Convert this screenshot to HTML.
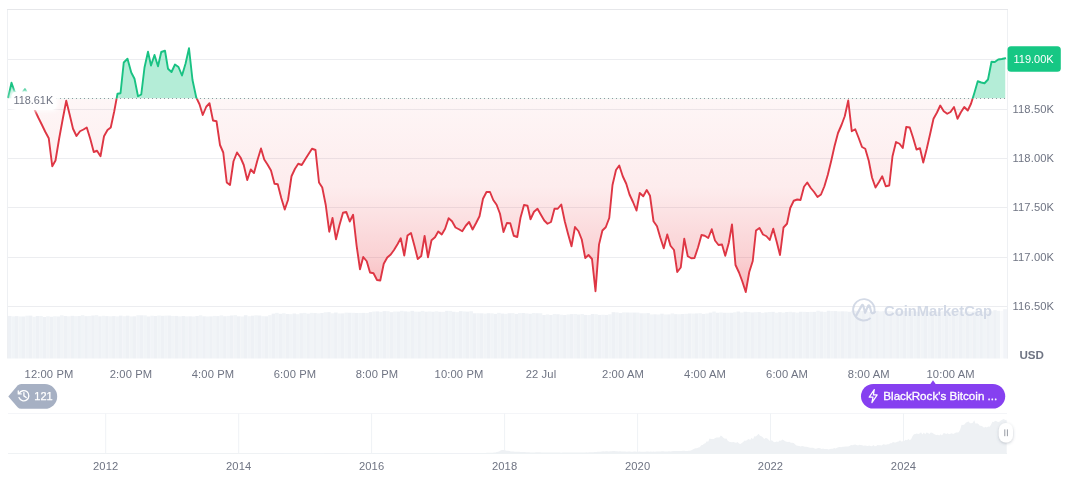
<!DOCTYPE html>
<html><head><meta charset="utf-8"><title>Chart</title>
<style>
html,body{margin:0;padding:0;background:#fff;}
body{width:1072px;height:477px;overflow:hidden;font-family:"Liberation Sans",sans-serif;}
svg{display:block}
.ax{font-family:"Liberation Sans",sans-serif;font-size:11.2px;fill:#6f7483;letter-spacing:0.12px;}
</style></head><body>
<svg width="1072" height="477" viewBox="0 0 1072 477" style="will-change:transform">
<defs>
<linearGradient id="rg" x1="0" y1="98.4" x2="0" y2="295" gradientUnits="userSpaceOnUse">
<stop offset="0" stop-color="#ea3943" stop-opacity="0.045"/>
<stop offset="0.45" stop-color="#ea3943" stop-opacity="0.095"/>
<stop offset="0.8" stop-color="#ea3943" stop-opacity="0.23"/>
<stop offset="1" stop-color="#ea3943" stop-opacity="0.36"/>
</linearGradient>
<clipPath id="above"><rect x="0" y="0" width="1072" height="98.4"/></clipPath>
<clipPath id="below"><rect x="0" y="98.4" width="1072" height="300"/></clipPath>
<filter id="blur" x="-20%" y="-50%" width="140%" height="200%"><feGaussianBlur stdDeviation="2.2"/></filter>
<filter id="sh" x="-50%" y="-50%" width="200%" height="200%"><feDropShadow dx="0" dy="1" stdDeviation="1.6" flood-color="#58667e" flood-opacity="0.35"/></filter>
</defs>
<rect width="1072" height="477" fill="#fff"/>
<!-- volume -->
<g><rect x="8.00" y="315.93" width="3.52" height="42.57" fill="#eef1f5"/><rect x="11.47" y="316.36" width="3.52" height="42.14" fill="#f1f4f7"/><rect x="14.94" y="316.12" width="3.52" height="42.38" fill="#eef1f5"/><rect x="18.41" y="316.45" width="3.52" height="42.05" fill="#f1f4f7"/><rect x="21.88" y="316.48" width="3.52" height="42.02" fill="#eef1f5"/><rect x="25.35" y="315.69" width="3.52" height="42.81" fill="#f1f4f7"/><rect x="28.82" y="315.62" width="3.52" height="42.88" fill="#eef1f5"/><rect x="32.28" y="316.77" width="3.52" height="41.73" fill="#f1f4f7"/><rect x="35.75" y="315.96" width="3.52" height="42.54" fill="#eef1f5"/><rect x="39.22" y="315.93" width="3.52" height="42.57" fill="#f1f4f7"/><rect x="42.69" y="316.99" width="3.52" height="41.51" fill="#eef1f5"/><rect x="46.16" y="316.26" width="3.52" height="42.24" fill="#f1f4f7"/><rect x="49.63" y="316.77" width="3.52" height="41.73" fill="#eef1f5"/><rect x="53.10" y="316.27" width="3.52" height="42.23" fill="#f1f4f7"/><rect x="56.57" y="316.49" width="3.52" height="42.01" fill="#eef1f5"/><rect x="60.04" y="315.31" width="3.52" height="43.19" fill="#f1f4f7"/><rect x="63.51" y="315.99" width="3.52" height="42.51" fill="#eef1f5"/><rect x="66.98" y="316.32" width="3.52" height="42.18" fill="#f1f4f7"/><rect x="70.45" y="315.83" width="3.52" height="42.67" fill="#eef1f5"/><rect x="73.92" y="316.14" width="3.52" height="42.36" fill="#f1f4f7"/><rect x="77.38" y="316.04" width="3.52" height="42.46" fill="#eef1f5"/><rect x="80.85" y="315.19" width="3.52" height="43.31" fill="#f1f4f7"/><rect x="84.32" y="316.16" width="3.52" height="42.34" fill="#eef1f5"/><rect x="87.79" y="315.93" width="3.52" height="42.57" fill="#f1f4f7"/><rect x="91.26" y="315.52" width="3.52" height="42.98" fill="#eef1f5"/><rect x="94.73" y="315.14" width="3.52" height="43.36" fill="#f1f4f7"/><rect x="98.20" y="316.31" width="3.52" height="42.19" fill="#eef1f5"/><rect x="101.67" y="315.76" width="3.52" height="42.74" fill="#f1f4f7"/><rect x="105.14" y="316.11" width="3.52" height="42.39" fill="#eef1f5"/><rect x="108.61" y="316.33" width="3.52" height="42.17" fill="#f1f4f7"/><rect x="112.08" y="316.10" width="3.52" height="42.40" fill="#eef1f5"/><rect x="115.55" y="316.39" width="3.52" height="42.11" fill="#f1f4f7"/><rect x="119.02" y="315.65" width="3.52" height="42.85" fill="#eef1f5"/><rect x="122.48" y="316.22" width="3.52" height="42.28" fill="#f1f4f7"/><rect x="125.95" y="315.72" width="3.52" height="42.78" fill="#eef1f5"/><rect x="129.42" y="316.41" width="3.52" height="42.09" fill="#f1f4f7"/><rect x="132.89" y="316.33" width="3.52" height="42.17" fill="#eef1f5"/><rect x="136.36" y="315.24" width="3.52" height="43.26" fill="#f1f4f7"/><rect x="139.83" y="315.29" width="3.52" height="43.21" fill="#eef1f5"/><rect x="143.30" y="315.40" width="3.52" height="43.10" fill="#f1f4f7"/><rect x="146.77" y="316.45" width="3.52" height="42.05" fill="#eef1f5"/><rect x="150.24" y="315.71" width="3.52" height="42.79" fill="#f1f4f7"/><rect x="153.71" y="315.98" width="3.52" height="42.52" fill="#eef1f5"/><rect x="157.18" y="315.52" width="3.52" height="42.98" fill="#f1f4f7"/><rect x="160.65" y="315.81" width="3.52" height="42.69" fill="#eef1f5"/><rect x="164.12" y="315.64" width="3.52" height="42.86" fill="#f1f4f7"/><rect x="167.58" y="315.59" width="3.52" height="42.91" fill="#eef1f5"/><rect x="171.05" y="315.92" width="3.52" height="42.58" fill="#f1f4f7"/><rect x="174.52" y="315.92" width="3.52" height="42.58" fill="#eef1f5"/><rect x="177.99" y="316.37" width="3.52" height="42.13" fill="#f1f4f7"/><rect x="181.46" y="316.05" width="3.52" height="42.45" fill="#eef1f5"/><rect x="184.93" y="316.40" width="3.52" height="42.10" fill="#f1f4f7"/><rect x="188.40" y="316.30" width="3.52" height="42.20" fill="#eef1f5"/><rect x="191.87" y="316.49" width="3.52" height="42.01" fill="#f1f4f7"/><rect x="195.34" y="316.04" width="3.52" height="42.46" fill="#eef1f5"/><rect x="198.81" y="315.33" width="3.52" height="43.17" fill="#f1f4f7"/><rect x="202.28" y="316.30" width="3.52" height="42.20" fill="#eef1f5"/><rect x="205.75" y="316.45" width="3.52" height="42.05" fill="#f1f4f7"/><rect x="209.22" y="316.37" width="3.52" height="42.13" fill="#eef1f5"/><rect x="212.68" y="315.90" width="3.52" height="42.60" fill="#f1f4f7"/><rect x="216.15" y="316.10" width="3.52" height="42.40" fill="#eef1f5"/><rect x="219.62" y="315.40" width="3.52" height="43.10" fill="#f1f4f7"/><rect x="223.09" y="316.26" width="3.52" height="42.24" fill="#eef1f5"/><rect x="226.56" y="315.90" width="3.52" height="42.60" fill="#f1f4f7"/><rect x="230.03" y="315.50" width="3.52" height="43.00" fill="#eef1f5"/><rect x="233.50" y="315.19" width="3.52" height="43.31" fill="#f1f4f7"/><rect x="236.97" y="316.30" width="3.52" height="42.20" fill="#eef1f5"/><rect x="240.44" y="316.49" width="3.52" height="42.01" fill="#f1f4f7"/><rect x="243.91" y="315.22" width="3.52" height="43.28" fill="#eef1f5"/><rect x="247.38" y="316.22" width="3.52" height="42.28" fill="#f1f4f7"/><rect x="250.85" y="315.67" width="3.52" height="42.83" fill="#eef1f5"/><rect x="254.32" y="315.31" width="3.52" height="43.19" fill="#f1f4f7"/><rect x="257.78" y="315.51" width="3.52" height="42.99" fill="#eef1f5"/><rect x="261.25" y="316.18" width="3.52" height="42.32" fill="#f1f4f7"/><rect x="264.72" y="316.32" width="3.52" height="42.18" fill="#eef1f5"/><rect x="268.19" y="315.16" width="3.52" height="43.34" fill="#f1f4f7"/><rect x="271.66" y="313.66" width="3.52" height="44.84" fill="#eef1f5"/><rect x="275.13" y="312.86" width="3.52" height="45.64" fill="#f1f4f7"/><rect x="278.60" y="313.81" width="3.52" height="44.69" fill="#eef1f5"/><rect x="282.07" y="313.26" width="3.52" height="45.24" fill="#f1f4f7"/><rect x="285.54" y="314.03" width="3.52" height="44.47" fill="#eef1f5"/><rect x="289.01" y="314.17" width="3.52" height="44.33" fill="#f1f4f7"/><rect x="292.48" y="313.51" width="3.52" height="44.99" fill="#eef1f5"/><rect x="295.95" y="314.20" width="3.52" height="44.30" fill="#f1f4f7"/><rect x="299.42" y="313.23" width="3.52" height="45.27" fill="#eef1f5"/><rect x="302.88" y="312.91" width="3.52" height="45.59" fill="#f1f4f7"/><rect x="306.35" y="313.64" width="3.52" height="44.86" fill="#eef1f5"/><rect x="309.82" y="312.84" width="3.52" height="45.66" fill="#f1f4f7"/><rect x="313.29" y="313.08" width="3.52" height="45.42" fill="#eef1f5"/><rect x="316.76" y="313.37" width="3.52" height="45.13" fill="#f1f4f7"/><rect x="320.23" y="312.95" width="3.52" height="45.55" fill="#eef1f5"/><rect x="323.70" y="312.32" width="3.52" height="46.18" fill="#f1f4f7"/><rect x="327.17" y="312.16" width="3.52" height="46.34" fill="#eef1f5"/><rect x="330.64" y="313.31" width="3.52" height="45.19" fill="#f1f4f7"/><rect x="334.11" y="312.54" width="3.52" height="45.96" fill="#eef1f5"/><rect x="337.58" y="313.44" width="3.52" height="45.06" fill="#f1f4f7"/><rect x="341.05" y="313.36" width="3.52" height="45.14" fill="#eef1f5"/><rect x="344.52" y="312.63" width="3.52" height="45.87" fill="#f1f4f7"/><rect x="347.98" y="312.74" width="3.52" height="45.76" fill="#eef1f5"/><rect x="351.45" y="312.83" width="3.52" height="45.67" fill="#f1f4f7"/><rect x="354.92" y="313.00" width="3.52" height="45.50" fill="#eef1f5"/><rect x="358.39" y="312.93" width="3.52" height="45.57" fill="#f1f4f7"/><rect x="361.86" y="312.88" width="3.52" height="45.62" fill="#eef1f5"/><rect x="365.33" y="312.97" width="3.52" height="45.53" fill="#f1f4f7"/><rect x="368.80" y="312.12" width="3.52" height="46.38" fill="#eef1f5"/><rect x="372.27" y="311.51" width="3.52" height="46.99" fill="#f1f4f7"/><rect x="375.74" y="311.40" width="3.52" height="47.10" fill="#eef1f5"/><rect x="379.21" y="311.81" width="3.52" height="46.69" fill="#f1f4f7"/><rect x="382.68" y="311.13" width="3.52" height="47.37" fill="#eef1f5"/><rect x="386.15" y="311.22" width="3.52" height="47.28" fill="#f1f4f7"/><rect x="389.62" y="312.17" width="3.52" height="46.33" fill="#eef1f5"/><rect x="393.08" y="311.53" width="3.52" height="46.97" fill="#f1f4f7"/><rect x="396.55" y="311.57" width="3.52" height="46.93" fill="#eef1f5"/><rect x="400.02" y="310.82" width="3.52" height="47.68" fill="#f1f4f7"/><rect x="403.49" y="311.38" width="3.52" height="47.12" fill="#eef1f5"/><rect x="406.96" y="311.61" width="3.52" height="46.89" fill="#f1f4f7"/><rect x="410.43" y="310.83" width="3.52" height="47.67" fill="#eef1f5"/><rect x="413.90" y="311.66" width="3.52" height="46.84" fill="#f1f4f7"/><rect x="417.37" y="311.69" width="3.52" height="46.81" fill="#eef1f5"/><rect x="420.84" y="310.88" width="3.52" height="47.62" fill="#f1f4f7"/><rect x="424.31" y="311.68" width="3.52" height="46.82" fill="#eef1f5"/><rect x="427.78" y="311.45" width="3.52" height="47.05" fill="#f1f4f7"/><rect x="431.25" y="311.75" width="3.52" height="46.75" fill="#eef1f5"/><rect x="434.72" y="311.29" width="3.52" height="47.21" fill="#f1f4f7"/><rect x="438.18" y="311.79" width="3.52" height="46.71" fill="#eef1f5"/><rect x="441.65" y="311.83" width="3.52" height="46.67" fill="#f1f4f7"/><rect x="445.12" y="310.83" width="3.52" height="47.67" fill="#eef1f5"/><rect x="448.59" y="310.88" width="3.52" height="47.62" fill="#f1f4f7"/><rect x="452.06" y="311.75" width="3.52" height="46.75" fill="#eef1f5"/><rect x="455.53" y="312.15" width="3.52" height="46.35" fill="#f1f4f7"/><rect x="459.00" y="311.15" width="3.52" height="47.35" fill="#eef1f5"/><rect x="462.47" y="311.44" width="3.52" height="47.06" fill="#f1f4f7"/><rect x="465.94" y="311.63" width="3.52" height="46.87" fill="#eef1f5"/><rect x="469.41" y="311.25" width="3.52" height="47.25" fill="#f1f4f7"/><rect x="472.88" y="313.31" width="3.52" height="45.19" fill="#eef1f5"/><rect x="476.35" y="313.24" width="3.52" height="45.26" fill="#f1f4f7"/><rect x="479.82" y="313.32" width="3.52" height="45.18" fill="#eef1f5"/><rect x="483.28" y="313.63" width="3.52" height="44.87" fill="#f1f4f7"/><rect x="486.75" y="313.22" width="3.52" height="45.28" fill="#eef1f5"/><rect x="490.22" y="313.33" width="3.52" height="45.17" fill="#f1f4f7"/><rect x="493.69" y="313.88" width="3.52" height="44.62" fill="#eef1f5"/><rect x="497.16" y="312.84" width="3.52" height="45.66" fill="#f1f4f7"/><rect x="500.63" y="313.60" width="3.52" height="44.90" fill="#eef1f5"/><rect x="504.10" y="313.83" width="3.52" height="44.67" fill="#f1f4f7"/><rect x="507.57" y="313.23" width="3.52" height="45.27" fill="#eef1f5"/><rect x="511.04" y="313.11" width="3.52" height="45.39" fill="#f1f4f7"/><rect x="514.51" y="313.93" width="3.52" height="44.57" fill="#eef1f5"/><rect x="517.98" y="313.13" width="3.52" height="45.37" fill="#f1f4f7"/><rect x="521.45" y="313.06" width="3.52" height="45.44" fill="#eef1f5"/><rect x="524.92" y="313.41" width="3.52" height="45.09" fill="#f1f4f7"/><rect x="528.38" y="313.78" width="3.52" height="44.72" fill="#eef1f5"/><rect x="531.85" y="312.94" width="3.52" height="45.56" fill="#f1f4f7"/><rect x="535.32" y="313.25" width="3.52" height="45.25" fill="#eef1f5"/><rect x="538.79" y="313.27" width="3.52" height="45.23" fill="#f1f4f7"/><rect x="542.26" y="314.97" width="3.52" height="43.53" fill="#eef1f5"/><rect x="545.73" y="314.41" width="3.52" height="44.09" fill="#f1f4f7"/><rect x="549.20" y="315.00" width="3.52" height="43.50" fill="#eef1f5"/><rect x="552.67" y="314.04" width="3.52" height="44.46" fill="#f1f4f7"/><rect x="556.14" y="314.27" width="3.52" height="44.23" fill="#eef1f5"/><rect x="559.61" y="314.71" width="3.52" height="43.79" fill="#f1f4f7"/><rect x="563.08" y="315.04" width="3.52" height="43.46" fill="#eef1f5"/><rect x="566.55" y="314.43" width="3.52" height="44.07" fill="#f1f4f7"/><rect x="570.02" y="314.12" width="3.52" height="44.38" fill="#eef1f5"/><rect x="573.48" y="313.97" width="3.52" height="44.53" fill="#f1f4f7"/><rect x="576.95" y="314.54" width="3.52" height="43.96" fill="#eef1f5"/><rect x="580.42" y="314.07" width="3.52" height="44.43" fill="#f1f4f7"/><rect x="583.89" y="314.93" width="3.52" height="43.57" fill="#eef1f5"/><rect x="587.36" y="314.97" width="3.52" height="43.53" fill="#f1f4f7"/><rect x="590.83" y="314.06" width="3.52" height="44.44" fill="#eef1f5"/><rect x="594.30" y="314.19" width="3.52" height="44.31" fill="#f1f4f7"/><rect x="597.77" y="314.93" width="3.52" height="43.57" fill="#eef1f5"/><rect x="601.24" y="314.70" width="3.52" height="43.80" fill="#f1f4f7"/><rect x="604.71" y="314.93" width="3.52" height="43.57" fill="#eef1f5"/><rect x="608.18" y="314.28" width="3.52" height="44.22" fill="#f1f4f7"/><rect x="611.65" y="312.18" width="3.52" height="46.32" fill="#eef1f5"/><rect x="615.12" y="312.41" width="3.52" height="46.09" fill="#f1f4f7"/><rect x="618.58" y="313.11" width="3.52" height="45.39" fill="#eef1f5"/><rect x="622.05" y="312.38" width="3.52" height="46.12" fill="#f1f4f7"/><rect x="625.52" y="312.48" width="3.52" height="46.02" fill="#eef1f5"/><rect x="628.99" y="312.58" width="3.52" height="45.92" fill="#f1f4f7"/><rect x="632.46" y="312.59" width="3.52" height="45.91" fill="#eef1f5"/><rect x="635.93" y="312.57" width="3.52" height="45.93" fill="#f1f4f7"/><rect x="639.40" y="313.29" width="3.52" height="45.21" fill="#eef1f5"/><rect x="642.87" y="313.32" width="3.52" height="45.18" fill="#f1f4f7"/><rect x="646.34" y="313.11" width="3.52" height="45.39" fill="#eef1f5"/><rect x="649.81" y="314.42" width="3.52" height="44.08" fill="#f1f4f7"/><rect x="653.28" y="314.33" width="3.52" height="44.17" fill="#eef1f5"/><rect x="656.75" y="314.48" width="3.52" height="44.02" fill="#f1f4f7"/><rect x="660.22" y="313.71" width="3.52" height="44.79" fill="#eef1f5"/><rect x="663.68" y="314.43" width="3.52" height="44.07" fill="#f1f4f7"/><rect x="667.15" y="314.40" width="3.52" height="44.10" fill="#eef1f5"/><rect x="670.62" y="313.41" width="3.52" height="45.09" fill="#f1f4f7"/><rect x="674.09" y="314.14" width="3.52" height="44.36" fill="#eef1f5"/><rect x="677.56" y="314.27" width="3.52" height="44.23" fill="#f1f4f7"/><rect x="681.03" y="314.03" width="3.52" height="44.47" fill="#eef1f5"/><rect x="684.50" y="313.83" width="3.52" height="44.67" fill="#f1f4f7"/><rect x="687.97" y="313.50" width="3.52" height="45.00" fill="#eef1f5"/><rect x="691.44" y="313.58" width="3.52" height="44.92" fill="#f1f4f7"/><rect x="694.91" y="313.42" width="3.52" height="45.08" fill="#eef1f5"/><rect x="698.38" y="313.20" width="3.52" height="45.30" fill="#f1f4f7"/><rect x="701.85" y="313.92" width="3.52" height="44.58" fill="#eef1f5"/><rect x="705.32" y="313.50" width="3.52" height="45.00" fill="#f1f4f7"/><rect x="708.78" y="312.63" width="3.52" height="45.87" fill="#eef1f5"/><rect x="712.25" y="311.56" width="3.52" height="46.94" fill="#f1f4f7"/><rect x="715.72" y="312.77" width="3.52" height="45.73" fill="#eef1f5"/><rect x="719.19" y="312.47" width="3.52" height="46.03" fill="#f1f4f7"/><rect x="722.66" y="312.79" width="3.52" height="45.71" fill="#eef1f5"/><rect x="726.13" y="312.76" width="3.52" height="45.74" fill="#f1f4f7"/><rect x="729.60" y="312.76" width="3.52" height="45.74" fill="#eef1f5"/><rect x="733.07" y="312.31" width="3.52" height="46.19" fill="#f1f4f7"/><rect x="736.54" y="311.52" width="3.52" height="46.98" fill="#eef1f5"/><rect x="740.01" y="312.54" width="3.52" height="45.96" fill="#f1f4f7"/><rect x="743.48" y="311.74" width="3.52" height="46.76" fill="#eef1f5"/><rect x="746.95" y="311.92" width="3.52" height="46.58" fill="#f1f4f7"/><rect x="750.42" y="312.43" width="3.52" height="46.07" fill="#eef1f5"/><rect x="753.88" y="312.23" width="3.52" height="46.27" fill="#f1f4f7"/><rect x="757.35" y="312.08" width="3.52" height="46.42" fill="#eef1f5"/><rect x="760.82" y="312.81" width="3.52" height="45.69" fill="#f1f4f7"/><rect x="764.29" y="312.36" width="3.52" height="46.14" fill="#eef1f5"/><rect x="767.76" y="311.98" width="3.52" height="46.52" fill="#f1f4f7"/><rect x="771.23" y="311.85" width="3.52" height="46.65" fill="#eef1f5"/><rect x="774.70" y="312.71" width="3.52" height="45.79" fill="#f1f4f7"/><rect x="778.17" y="312.17" width="3.52" height="46.33" fill="#eef1f5"/><rect x="781.64" y="312.60" width="3.52" height="45.90" fill="#f1f4f7"/><rect x="785.11" y="311.99" width="3.52" height="46.51" fill="#eef1f5"/><rect x="788.58" y="311.78" width="3.52" height="46.72" fill="#f1f4f7"/><rect x="792.05" y="312.25" width="3.52" height="46.25" fill="#eef1f5"/><rect x="795.52" y="312.64" width="3.52" height="45.86" fill="#f1f4f7"/><rect x="798.98" y="311.74" width="3.52" height="46.76" fill="#eef1f5"/><rect x="802.45" y="311.81" width="3.52" height="46.69" fill="#f1f4f7"/><rect x="805.92" y="311.99" width="3.52" height="46.51" fill="#eef1f5"/><rect x="809.39" y="311.83" width="3.52" height="46.67" fill="#f1f4f7"/><rect x="812.86" y="311.85" width="3.52" height="46.65" fill="#eef1f5"/><rect x="816.33" y="310.71" width="3.52" height="47.79" fill="#f1f4f7"/><rect x="819.80" y="311.58" width="3.52" height="46.92" fill="#eef1f5"/><rect x="823.27" y="311.91" width="3.52" height="46.59" fill="#f1f4f7"/><rect x="826.74" y="310.77" width="3.52" height="47.73" fill="#eef1f5"/><rect x="830.21" y="311.08" width="3.52" height="47.42" fill="#f1f4f7"/><rect x="833.68" y="311.08" width="3.52" height="47.42" fill="#eef1f5"/><rect x="837.15" y="311.44" width="3.52" height="47.06" fill="#f1f4f7"/><rect x="840.62" y="311.29" width="3.52" height="47.21" fill="#eef1f5"/><rect x="844.08" y="311.36" width="3.52" height="47.14" fill="#f1f4f7"/><rect x="847.55" y="311.79" width="3.52" height="46.71" fill="#eef1f5"/><rect x="851.02" y="310.70" width="3.52" height="47.80" fill="#f1f4f7"/><rect x="854.49" y="310.78" width="3.52" height="47.72" fill="#eef1f5"/><rect x="857.96" y="310.88" width="3.52" height="47.62" fill="#f1f4f7"/><rect x="861.43" y="310.87" width="3.52" height="47.63" fill="#eef1f5"/><rect x="864.90" y="310.80" width="3.52" height="47.70" fill="#f1f4f7"/><rect x="868.37" y="312.06" width="3.52" height="46.44" fill="#eef1f5"/><rect x="871.84" y="311.90" width="3.52" height="46.60" fill="#f1f4f7"/><rect x="875.31" y="310.82" width="3.52" height="47.68" fill="#eef1f5"/><rect x="878.78" y="311.40" width="3.52" height="47.10" fill="#f1f4f7"/><rect x="882.25" y="311.14" width="3.52" height="47.36" fill="#eef1f5"/><rect x="885.72" y="311.14" width="3.52" height="47.36" fill="#f1f4f7"/><rect x="889.18" y="311.19" width="3.52" height="47.31" fill="#eef1f5"/><rect x="892.65" y="311.61" width="3.52" height="46.89" fill="#f1f4f7"/><rect x="896.12" y="311.52" width="3.52" height="46.98" fill="#eef1f5"/><rect x="899.59" y="311.21" width="3.52" height="47.29" fill="#f1f4f7"/><rect x="903.06" y="310.97" width="3.52" height="47.53" fill="#eef1f5"/><rect x="906.53" y="311.16" width="3.52" height="47.34" fill="#f1f4f7"/><rect x="910.00" y="310.87" width="3.52" height="47.63" fill="#eef1f5"/><rect x="913.47" y="311.48" width="3.52" height="47.02" fill="#f1f4f7"/><rect x="916.94" y="311.70" width="3.52" height="46.80" fill="#eef1f5"/><rect x="920.41" y="311.23" width="3.52" height="47.27" fill="#f1f4f7"/><rect x="923.88" y="310.81" width="3.52" height="47.69" fill="#eef1f5"/><rect x="927.35" y="310.95" width="3.52" height="47.55" fill="#f1f4f7"/><rect x="930.82" y="311.22" width="3.52" height="47.28" fill="#eef1f5"/><rect x="934.28" y="311.55" width="3.52" height="46.95" fill="#f1f4f7"/><rect x="937.75" y="311.80" width="3.52" height="46.70" fill="#eef1f5"/><rect x="941.22" y="311.23" width="3.52" height="47.27" fill="#f1f4f7"/><rect x="944.69" y="311.82" width="3.52" height="46.68" fill="#eef1f5"/><rect x="948.16" y="311.57" width="3.52" height="46.93" fill="#f1f4f7"/><rect x="951.63" y="311.30" width="3.52" height="47.20" fill="#eef1f5"/><rect x="955.10" y="311.22" width="3.52" height="47.28" fill="#f1f4f7"/><rect x="958.57" y="311.39" width="3.52" height="47.11" fill="#eef1f5"/><rect x="962.04" y="311.68" width="3.52" height="46.82" fill="#f1f4f7"/><rect x="965.51" y="311.29" width="3.52" height="47.21" fill="#eef1f5"/><rect x="968.98" y="311.67" width="3.52" height="46.83" fill="#f1f4f7"/><rect x="972.45" y="311.35" width="3.52" height="47.15" fill="#eef1f5"/><rect x="975.92" y="311.04" width="3.52" height="47.46" fill="#f1f4f7"/><rect x="979.38" y="311.45" width="3.52" height="47.05" fill="#eef1f5"/><rect x="982.85" y="311.67" width="3.52" height="46.83" fill="#f1f4f7"/><rect x="986.32" y="310.80" width="3.52" height="47.70" fill="#eef1f5"/><rect x="989.79" y="311.29" width="3.52" height="47.21" fill="#f1f4f7"/><rect x="993.26" y="310.20" width="3.52" height="48.30" fill="#eef1f5"/><rect x="996.73" y="310.83" width="3.52" height="47.67" fill="#f1f4f7"/><rect x="1000.2" y="311" width="3" height="47.5" fill="#f9fafc"/><rect x="1003.2" y="309.2" width="4.3" height="49.3" fill="#f2f4f8"/></g>
<!-- grid -->
<line x1="8" x2="1007" y1="59.5" y2="59.5" stroke="#ecedf0" stroke-width="1"/><line x1="8" x2="1007" y1="109.5" y2="109.5" stroke="#ecedf0" stroke-width="1"/><line x1="8" x2="1007" y1="158.5" y2="158.5" stroke="#ecedf0" stroke-width="1"/><line x1="8" x2="1007" y1="207.5" y2="207.5" stroke="#ecedf0" stroke-width="1"/><line x1="8" x2="1007" y1="257.5" y2="257.5" stroke="#ecedf0" stroke-width="1"/><line x1="8" x2="1007" y1="306.5" y2="306.5" stroke="#ecedf0" stroke-width="1"/>
<!-- frame -->
<path d="M7.5,358.5 V9.5 M1007.5,9.5 V358.5" fill="none" stroke="#eef0f3" stroke-width="1"/><line x1="7" x2="1008" y1="9.5" y2="9.5" stroke="#e6e7ea" stroke-width="1"/>
<!-- fills -->
<path d="M8.25,97.20 L11.50,82.80 L14.60,91.50 L18.20,95.00 L21.60,93.50 L25.00,89.20 L28.60,96.00 L32.10,104.00 L35.00,110.50 L38.25,117.50 L41.75,124.50 L45.25,131.75 L48.75,138.25 L52.25,166.25 L55.50,160.50 L59.25,138.00 L62.75,119.00 L66.25,100.75 L69.75,115.00 L73.00,128.75 L76.50,136.00 L80.00,131.25 L83.50,129.50 L86.75,127.50 L90.25,138.75 L93.75,152.00 L97.00,150.75 L100.50,156.25 L104.00,136.25 L107.50,130.00 L110.75,127.50 L114.25,111.25 L117.50,93.75 L120.50,93.25 L123.75,62.50 L127.50,58.75 L131.25,72.50 L134.50,78.75 L138.00,96.25 L141.25,94.50 L144.50,67.50 L148.00,51.75 L151.00,65.50 L154.50,55.00 L158.00,66.25 L161.25,52.00 L165.00,50.75 L168.00,68.75 L171.50,72.00 L175.00,64.50 L178.50,67.00 L182.00,75.50 L185.50,63.75 L189.00,48.25 L192.50,80.00 L196.25,97.50 L199.50,104.25 L202.75,115.00 L206.25,106.75 L209.50,103.25 L213.00,120.50 L216.50,121.25 L220.00,145.00 L223.25,152.50 L226.75,182.50 L230.00,185.00 L233.50,161.25 L237.00,152.50 L240.50,157.50 L243.75,165.00 L247.25,180.00 L250.75,169.50 L254.00,173.00 L257.50,160.00 L261.00,148.50 L264.25,159.50 L267.50,164.50 L271.00,170.50 L274.50,183.75 L277.75,184.25 L281.25,198.00 L284.75,209.50 L288.00,200.00 L291.50,176.25 L295.00,168.75 L298.25,163.75 L301.75,165.00 L305.25,159.25 L308.75,153.75 L312.00,148.75 L315.50,150.00 L319.00,182.50 L322.25,187.50 L325.75,205.00 L329.25,231.75 L332.50,218.00 L336.00,239.25 L339.50,225.00 L343.00,212.75 L346.25,211.85 L349.75,221.50 L353.10,214.75 L356.60,245.60 L360.00,269.25 L363.25,257.00 L366.75,261.25 L370.00,272.50 L373.50,273.25 L377.00,280.00 L380.25,280.50 L383.75,263.75 L387.25,257.50 L390.75,254.50 L394.00,250.00 L397.50,244.25 L400.75,238.25 L404.25,255.50 L407.50,235.50 L411.00,233.00 L414.50,246.00 L417.75,259.00 L421.25,256.00 L424.60,236.00 L428.00,257.25 L431.50,240.25 L435.00,237.25 L438.25,231.50 L441.75,234.40 L445.10,228.75 L448.60,218.25 L452.00,221.25 L455.50,227.50 L458.90,229.25 L462.25,231.25 L465.75,225.75 L469.10,222.00 L472.60,229.50 L476.10,223.00 L479.50,216.25 L483.00,198.75 L486.50,192.00 L490.00,192.00 L493.25,200.00 L496.60,204.75 L500.00,213.75 L503.50,232.00 L506.90,223.00 L510.25,223.25 L513.75,235.75 L517.25,237.00 L520.50,217.75 L524.00,205.00 L527.50,205.75 L530.50,219.25 L534.00,211.75 L537.50,208.75 L540.75,214.50 L544.25,220.50 L547.50,223.75 L551.00,222.00 L554.50,208.75 L557.75,208.75 L561.25,204.50 L564.75,221.25 L568.00,233.75 L571.50,246.25 L575.00,227.00 L578.50,231.25 L581.75,239.50 L585.25,258.00 L588.50,255.00 L592.00,259.00 L595.50,291.25 L599.00,244.60 L602.40,230.50 L605.75,227.25 L609.25,218.00 L612.50,185.00 L616.00,170.00 L619.25,165.50 L622.75,176.25 L626.25,183.75 L629.50,194.50 L633.00,202.00 L636.50,210.50 L639.75,193.00 L643.25,196.25 L646.75,190.00 L650.00,195.75 L653.50,221.25 L657.00,226.25 L660.25,237.50 L663.75,248.25 L667.25,234.50 L670.50,245.75 L674.00,250.00 L677.25,272.00 L680.75,267.50 L684.25,238.75 L687.75,256.25 L691.25,258.25 L694.50,258.00 L698.00,247.50 L701.50,235.00 L704.75,235.75 L708.25,238.00 L711.75,229.25 L715.00,240.50 L718.50,245.00 L722.00,244.50 L725.25,255.75 L728.75,243.00 L732.00,224.50 L735.50,265.00 L739.00,272.50 L742.25,281.25 L745.75,292.00 L749.25,272.00 L752.75,261.00 L756.00,230.50 L759.50,228.00 L763.00,234.50 L766.50,236.25 L769.75,240.00 L773.25,228.75 L776.75,242.00 L780.00,255.00 L783.50,227.50 L787.00,223.75 L790.25,208.00 L793.75,200.75 L797.25,199.50 L800.50,200.00 L804.00,186.75 L807.25,182.50 L810.75,188.00 L814.10,192.00 L817.50,197.00 L821.00,194.50 L824.40,186.25 L827.75,175.00 L831.25,160.75 L834.50,146.25 L838.00,133.00 L841.50,125.00 L844.75,116.25 L848.25,100.50 L851.75,131.25 L855.25,129.25 L858.50,137.50 L862.00,147.00 L865.25,148.75 L868.75,160.75 L872.00,177.50 L875.50,187.50 L879.00,182.00 L882.25,176.25 L885.75,186.25 L889.25,185.50 L892.50,156.25 L896.00,142.00 L899.50,143.75 L902.75,148.00 L906.25,127.00 L909.75,127.50 L913.00,137.50 L916.50,149.50 L920.00,148.25 L923.25,162.50 L926.75,148.75 L930.00,134.50 L933.50,118.75 L937.00,112.50 L940.25,105.50 L943.75,111.25 L947.25,113.75 L950.50,112.00 L954.00,107.00 L957.50,118.75 L960.75,112.50 L964.25,107.00 L967.75,110.50 L971.00,103.75 L974.50,92.50 L977.75,81.25 L981.25,82.50 L984.50,83.25 L988.00,79.50 L991.50,61.75 L994.75,62.00 L998.25,59.50 L1001.75,59.00 L1005.25,58.25 L1005.25,98.4 L8.25,98.4 Z" fill="url(#rg)" clip-path="url(#below)"/>
<path d="M8.25,97.20 L11.50,82.80 L14.60,91.50 L18.20,95.00 L21.60,93.50 L25.00,89.20 L28.60,96.00 L32.10,104.00 L35.00,110.50 L38.25,117.50 L41.75,124.50 L45.25,131.75 L48.75,138.25 L52.25,166.25 L55.50,160.50 L59.25,138.00 L62.75,119.00 L66.25,100.75 L69.75,115.00 L73.00,128.75 L76.50,136.00 L80.00,131.25 L83.50,129.50 L86.75,127.50 L90.25,138.75 L93.75,152.00 L97.00,150.75 L100.50,156.25 L104.00,136.25 L107.50,130.00 L110.75,127.50 L114.25,111.25 L117.50,93.75 L120.50,93.25 L123.75,62.50 L127.50,58.75 L131.25,72.50 L134.50,78.75 L138.00,96.25 L141.25,94.50 L144.50,67.50 L148.00,51.75 L151.00,65.50 L154.50,55.00 L158.00,66.25 L161.25,52.00 L165.00,50.75 L168.00,68.75 L171.50,72.00 L175.00,64.50 L178.50,67.00 L182.00,75.50 L185.50,63.75 L189.00,48.25 L192.50,80.00 L196.25,97.50 L199.50,104.25 L202.75,115.00 L206.25,106.75 L209.50,103.25 L213.00,120.50 L216.50,121.25 L220.00,145.00 L223.25,152.50 L226.75,182.50 L230.00,185.00 L233.50,161.25 L237.00,152.50 L240.50,157.50 L243.75,165.00 L247.25,180.00 L250.75,169.50 L254.00,173.00 L257.50,160.00 L261.00,148.50 L264.25,159.50 L267.50,164.50 L271.00,170.50 L274.50,183.75 L277.75,184.25 L281.25,198.00 L284.75,209.50 L288.00,200.00 L291.50,176.25 L295.00,168.75 L298.25,163.75 L301.75,165.00 L305.25,159.25 L308.75,153.75 L312.00,148.75 L315.50,150.00 L319.00,182.50 L322.25,187.50 L325.75,205.00 L329.25,231.75 L332.50,218.00 L336.00,239.25 L339.50,225.00 L343.00,212.75 L346.25,211.85 L349.75,221.50 L353.10,214.75 L356.60,245.60 L360.00,269.25 L363.25,257.00 L366.75,261.25 L370.00,272.50 L373.50,273.25 L377.00,280.00 L380.25,280.50 L383.75,263.75 L387.25,257.50 L390.75,254.50 L394.00,250.00 L397.50,244.25 L400.75,238.25 L404.25,255.50 L407.50,235.50 L411.00,233.00 L414.50,246.00 L417.75,259.00 L421.25,256.00 L424.60,236.00 L428.00,257.25 L431.50,240.25 L435.00,237.25 L438.25,231.50 L441.75,234.40 L445.10,228.75 L448.60,218.25 L452.00,221.25 L455.50,227.50 L458.90,229.25 L462.25,231.25 L465.75,225.75 L469.10,222.00 L472.60,229.50 L476.10,223.00 L479.50,216.25 L483.00,198.75 L486.50,192.00 L490.00,192.00 L493.25,200.00 L496.60,204.75 L500.00,213.75 L503.50,232.00 L506.90,223.00 L510.25,223.25 L513.75,235.75 L517.25,237.00 L520.50,217.75 L524.00,205.00 L527.50,205.75 L530.50,219.25 L534.00,211.75 L537.50,208.75 L540.75,214.50 L544.25,220.50 L547.50,223.75 L551.00,222.00 L554.50,208.75 L557.75,208.75 L561.25,204.50 L564.75,221.25 L568.00,233.75 L571.50,246.25 L575.00,227.00 L578.50,231.25 L581.75,239.50 L585.25,258.00 L588.50,255.00 L592.00,259.00 L595.50,291.25 L599.00,244.60 L602.40,230.50 L605.75,227.25 L609.25,218.00 L612.50,185.00 L616.00,170.00 L619.25,165.50 L622.75,176.25 L626.25,183.75 L629.50,194.50 L633.00,202.00 L636.50,210.50 L639.75,193.00 L643.25,196.25 L646.75,190.00 L650.00,195.75 L653.50,221.25 L657.00,226.25 L660.25,237.50 L663.75,248.25 L667.25,234.50 L670.50,245.75 L674.00,250.00 L677.25,272.00 L680.75,267.50 L684.25,238.75 L687.75,256.25 L691.25,258.25 L694.50,258.00 L698.00,247.50 L701.50,235.00 L704.75,235.75 L708.25,238.00 L711.75,229.25 L715.00,240.50 L718.50,245.00 L722.00,244.50 L725.25,255.75 L728.75,243.00 L732.00,224.50 L735.50,265.00 L739.00,272.50 L742.25,281.25 L745.75,292.00 L749.25,272.00 L752.75,261.00 L756.00,230.50 L759.50,228.00 L763.00,234.50 L766.50,236.25 L769.75,240.00 L773.25,228.75 L776.75,242.00 L780.00,255.00 L783.50,227.50 L787.00,223.75 L790.25,208.00 L793.75,200.75 L797.25,199.50 L800.50,200.00 L804.00,186.75 L807.25,182.50 L810.75,188.00 L814.10,192.00 L817.50,197.00 L821.00,194.50 L824.40,186.25 L827.75,175.00 L831.25,160.75 L834.50,146.25 L838.00,133.00 L841.50,125.00 L844.75,116.25 L848.25,100.50 L851.75,131.25 L855.25,129.25 L858.50,137.50 L862.00,147.00 L865.25,148.75 L868.75,160.75 L872.00,177.50 L875.50,187.50 L879.00,182.00 L882.25,176.25 L885.75,186.25 L889.25,185.50 L892.50,156.25 L896.00,142.00 L899.50,143.75 L902.75,148.00 L906.25,127.00 L909.75,127.50 L913.00,137.50 L916.50,149.50 L920.00,148.25 L923.25,162.50 L926.75,148.75 L930.00,134.50 L933.50,118.75 L937.00,112.50 L940.25,105.50 L943.75,111.25 L947.25,113.75 L950.50,112.00 L954.00,107.00 L957.50,118.75 L960.75,112.50 L964.25,107.00 L967.75,110.50 L971.00,103.75 L974.50,92.50 L977.75,81.25 L981.25,82.50 L984.50,83.25 L988.00,79.50 L991.50,61.75 L994.75,62.00 L998.25,59.50 L1001.75,59.00 L1005.25,58.25 L1005.25,98.4 L8.25,98.4 Z" fill="#16c784" fill-opacity="0.32" clip-path="url(#above)"/>
<!-- baseline dotted -->
<line x1="56" x2="1005.5" y1="98.5" y2="98.5" stroke="#9297a2" stroke-width="1" stroke-dasharray="1 3"/>
<!-- lines -->
<path d="M8.25,97.20 L11.50,82.80 L14.60,91.50 L18.20,95.00 L21.60,93.50 L25.00,89.20 L28.60,96.00 L32.10,104.00 L35.00,110.50 L38.25,117.50 L41.75,124.50 L45.25,131.75 L48.75,138.25 L52.25,166.25 L55.50,160.50 L59.25,138.00 L62.75,119.00 L66.25,100.75 L69.75,115.00 L73.00,128.75 L76.50,136.00 L80.00,131.25 L83.50,129.50 L86.75,127.50 L90.25,138.75 L93.75,152.00 L97.00,150.75 L100.50,156.25 L104.00,136.25 L107.50,130.00 L110.75,127.50 L114.25,111.25 L117.50,93.75 L120.50,93.25 L123.75,62.50 L127.50,58.75 L131.25,72.50 L134.50,78.75 L138.00,96.25 L141.25,94.50 L144.50,67.50 L148.00,51.75 L151.00,65.50 L154.50,55.00 L158.00,66.25 L161.25,52.00 L165.00,50.75 L168.00,68.75 L171.50,72.00 L175.00,64.50 L178.50,67.00 L182.00,75.50 L185.50,63.75 L189.00,48.25 L192.50,80.00 L196.25,97.50 L199.50,104.25 L202.75,115.00 L206.25,106.75 L209.50,103.25 L213.00,120.50 L216.50,121.25 L220.00,145.00 L223.25,152.50 L226.75,182.50 L230.00,185.00 L233.50,161.25 L237.00,152.50 L240.50,157.50 L243.75,165.00 L247.25,180.00 L250.75,169.50 L254.00,173.00 L257.50,160.00 L261.00,148.50 L264.25,159.50 L267.50,164.50 L271.00,170.50 L274.50,183.75 L277.75,184.25 L281.25,198.00 L284.75,209.50 L288.00,200.00 L291.50,176.25 L295.00,168.75 L298.25,163.75 L301.75,165.00 L305.25,159.25 L308.75,153.75 L312.00,148.75 L315.50,150.00 L319.00,182.50 L322.25,187.50 L325.75,205.00 L329.25,231.75 L332.50,218.00 L336.00,239.25 L339.50,225.00 L343.00,212.75 L346.25,211.85 L349.75,221.50 L353.10,214.75 L356.60,245.60 L360.00,269.25 L363.25,257.00 L366.75,261.25 L370.00,272.50 L373.50,273.25 L377.00,280.00 L380.25,280.50 L383.75,263.75 L387.25,257.50 L390.75,254.50 L394.00,250.00 L397.50,244.25 L400.75,238.25 L404.25,255.50 L407.50,235.50 L411.00,233.00 L414.50,246.00 L417.75,259.00 L421.25,256.00 L424.60,236.00 L428.00,257.25 L431.50,240.25 L435.00,237.25 L438.25,231.50 L441.75,234.40 L445.10,228.75 L448.60,218.25 L452.00,221.25 L455.50,227.50 L458.90,229.25 L462.25,231.25 L465.75,225.75 L469.10,222.00 L472.60,229.50 L476.10,223.00 L479.50,216.25 L483.00,198.75 L486.50,192.00 L490.00,192.00 L493.25,200.00 L496.60,204.75 L500.00,213.75 L503.50,232.00 L506.90,223.00 L510.25,223.25 L513.75,235.75 L517.25,237.00 L520.50,217.75 L524.00,205.00 L527.50,205.75 L530.50,219.25 L534.00,211.75 L537.50,208.75 L540.75,214.50 L544.25,220.50 L547.50,223.75 L551.00,222.00 L554.50,208.75 L557.75,208.75 L561.25,204.50 L564.75,221.25 L568.00,233.75 L571.50,246.25 L575.00,227.00 L578.50,231.25 L581.75,239.50 L585.25,258.00 L588.50,255.00 L592.00,259.00 L595.50,291.25 L599.00,244.60 L602.40,230.50 L605.75,227.25 L609.25,218.00 L612.50,185.00 L616.00,170.00 L619.25,165.50 L622.75,176.25 L626.25,183.75 L629.50,194.50 L633.00,202.00 L636.50,210.50 L639.75,193.00 L643.25,196.25 L646.75,190.00 L650.00,195.75 L653.50,221.25 L657.00,226.25 L660.25,237.50 L663.75,248.25 L667.25,234.50 L670.50,245.75 L674.00,250.00 L677.25,272.00 L680.75,267.50 L684.25,238.75 L687.75,256.25 L691.25,258.25 L694.50,258.00 L698.00,247.50 L701.50,235.00 L704.75,235.75 L708.25,238.00 L711.75,229.25 L715.00,240.50 L718.50,245.00 L722.00,244.50 L725.25,255.75 L728.75,243.00 L732.00,224.50 L735.50,265.00 L739.00,272.50 L742.25,281.25 L745.75,292.00 L749.25,272.00 L752.75,261.00 L756.00,230.50 L759.50,228.00 L763.00,234.50 L766.50,236.25 L769.75,240.00 L773.25,228.75 L776.75,242.00 L780.00,255.00 L783.50,227.50 L787.00,223.75 L790.25,208.00 L793.75,200.75 L797.25,199.50 L800.50,200.00 L804.00,186.75 L807.25,182.50 L810.75,188.00 L814.10,192.00 L817.50,197.00 L821.00,194.50 L824.40,186.25 L827.75,175.00 L831.25,160.75 L834.50,146.25 L838.00,133.00 L841.50,125.00 L844.75,116.25 L848.25,100.50 L851.75,131.25 L855.25,129.25 L858.50,137.50 L862.00,147.00 L865.25,148.75 L868.75,160.75 L872.00,177.50 L875.50,187.50 L879.00,182.00 L882.25,176.25 L885.75,186.25 L889.25,185.50 L892.50,156.25 L896.00,142.00 L899.50,143.75 L902.75,148.00 L906.25,127.00 L909.75,127.50 L913.00,137.50 L916.50,149.50 L920.00,148.25 L923.25,162.50 L926.75,148.75 L930.00,134.50 L933.50,118.75 L937.00,112.50 L940.25,105.50 L943.75,111.25 L947.25,113.75 L950.50,112.00 L954.00,107.00 L957.50,118.75 L960.75,112.50 L964.25,107.00 L967.75,110.50 L971.00,103.75 L974.50,92.50 L977.75,81.25 L981.25,82.50 L984.50,83.25 L988.00,79.50 L991.50,61.75 L994.75,62.00 L998.25,59.50 L1001.75,59.00 L1005.25,58.25" fill="none" stroke="#de3644" stroke-width="1.9" stroke-linejoin="round" stroke-linecap="round" clip-path="url(#below)"/>
<path d="M8.25,97.20 L11.50,82.80 L14.60,91.50 L18.20,95.00 L21.60,93.50 L25.00,89.20 L28.60,96.00 L32.10,104.00 L35.00,110.50 L38.25,117.50 L41.75,124.50 L45.25,131.75 L48.75,138.25 L52.25,166.25 L55.50,160.50 L59.25,138.00 L62.75,119.00 L66.25,100.75 L69.75,115.00 L73.00,128.75 L76.50,136.00 L80.00,131.25 L83.50,129.50 L86.75,127.50 L90.25,138.75 L93.75,152.00 L97.00,150.75 L100.50,156.25 L104.00,136.25 L107.50,130.00 L110.75,127.50 L114.25,111.25 L117.50,93.75 L120.50,93.25 L123.75,62.50 L127.50,58.75 L131.25,72.50 L134.50,78.75 L138.00,96.25 L141.25,94.50 L144.50,67.50 L148.00,51.75 L151.00,65.50 L154.50,55.00 L158.00,66.25 L161.25,52.00 L165.00,50.75 L168.00,68.75 L171.50,72.00 L175.00,64.50 L178.50,67.00 L182.00,75.50 L185.50,63.75 L189.00,48.25 L192.50,80.00 L196.25,97.50 L199.50,104.25 L202.75,115.00 L206.25,106.75 L209.50,103.25 L213.00,120.50 L216.50,121.25 L220.00,145.00 L223.25,152.50 L226.75,182.50 L230.00,185.00 L233.50,161.25 L237.00,152.50 L240.50,157.50 L243.75,165.00 L247.25,180.00 L250.75,169.50 L254.00,173.00 L257.50,160.00 L261.00,148.50 L264.25,159.50 L267.50,164.50 L271.00,170.50 L274.50,183.75 L277.75,184.25 L281.25,198.00 L284.75,209.50 L288.00,200.00 L291.50,176.25 L295.00,168.75 L298.25,163.75 L301.75,165.00 L305.25,159.25 L308.75,153.75 L312.00,148.75 L315.50,150.00 L319.00,182.50 L322.25,187.50 L325.75,205.00 L329.25,231.75 L332.50,218.00 L336.00,239.25 L339.50,225.00 L343.00,212.75 L346.25,211.85 L349.75,221.50 L353.10,214.75 L356.60,245.60 L360.00,269.25 L363.25,257.00 L366.75,261.25 L370.00,272.50 L373.50,273.25 L377.00,280.00 L380.25,280.50 L383.75,263.75 L387.25,257.50 L390.75,254.50 L394.00,250.00 L397.50,244.25 L400.75,238.25 L404.25,255.50 L407.50,235.50 L411.00,233.00 L414.50,246.00 L417.75,259.00 L421.25,256.00 L424.60,236.00 L428.00,257.25 L431.50,240.25 L435.00,237.25 L438.25,231.50 L441.75,234.40 L445.10,228.75 L448.60,218.25 L452.00,221.25 L455.50,227.50 L458.90,229.25 L462.25,231.25 L465.75,225.75 L469.10,222.00 L472.60,229.50 L476.10,223.00 L479.50,216.25 L483.00,198.75 L486.50,192.00 L490.00,192.00 L493.25,200.00 L496.60,204.75 L500.00,213.75 L503.50,232.00 L506.90,223.00 L510.25,223.25 L513.75,235.75 L517.25,237.00 L520.50,217.75 L524.00,205.00 L527.50,205.75 L530.50,219.25 L534.00,211.75 L537.50,208.75 L540.75,214.50 L544.25,220.50 L547.50,223.75 L551.00,222.00 L554.50,208.75 L557.75,208.75 L561.25,204.50 L564.75,221.25 L568.00,233.75 L571.50,246.25 L575.00,227.00 L578.50,231.25 L581.75,239.50 L585.25,258.00 L588.50,255.00 L592.00,259.00 L595.50,291.25 L599.00,244.60 L602.40,230.50 L605.75,227.25 L609.25,218.00 L612.50,185.00 L616.00,170.00 L619.25,165.50 L622.75,176.25 L626.25,183.75 L629.50,194.50 L633.00,202.00 L636.50,210.50 L639.75,193.00 L643.25,196.25 L646.75,190.00 L650.00,195.75 L653.50,221.25 L657.00,226.25 L660.25,237.50 L663.75,248.25 L667.25,234.50 L670.50,245.75 L674.00,250.00 L677.25,272.00 L680.75,267.50 L684.25,238.75 L687.75,256.25 L691.25,258.25 L694.50,258.00 L698.00,247.50 L701.50,235.00 L704.75,235.75 L708.25,238.00 L711.75,229.25 L715.00,240.50 L718.50,245.00 L722.00,244.50 L725.25,255.75 L728.75,243.00 L732.00,224.50 L735.50,265.00 L739.00,272.50 L742.25,281.25 L745.75,292.00 L749.25,272.00 L752.75,261.00 L756.00,230.50 L759.50,228.00 L763.00,234.50 L766.50,236.25 L769.75,240.00 L773.25,228.75 L776.75,242.00 L780.00,255.00 L783.50,227.50 L787.00,223.75 L790.25,208.00 L793.75,200.75 L797.25,199.50 L800.50,200.00 L804.00,186.75 L807.25,182.50 L810.75,188.00 L814.10,192.00 L817.50,197.00 L821.00,194.50 L824.40,186.25 L827.75,175.00 L831.25,160.75 L834.50,146.25 L838.00,133.00 L841.50,125.00 L844.75,116.25 L848.25,100.50 L851.75,131.25 L855.25,129.25 L858.50,137.50 L862.00,147.00 L865.25,148.75 L868.75,160.75 L872.00,177.50 L875.50,187.50 L879.00,182.00 L882.25,176.25 L885.75,186.25 L889.25,185.50 L892.50,156.25 L896.00,142.00 L899.50,143.75 L902.75,148.00 L906.25,127.00 L909.75,127.50 L913.00,137.50 L916.50,149.50 L920.00,148.25 L923.25,162.50 L926.75,148.75 L930.00,134.50 L933.50,118.75 L937.00,112.50 L940.25,105.50 L943.75,111.25 L947.25,113.75 L950.50,112.00 L954.00,107.00 L957.50,118.75 L960.75,112.50 L964.25,107.00 L967.75,110.50 L971.00,103.75 L974.50,92.50 L977.75,81.25 L981.25,82.50 L984.50,83.25 L988.00,79.50 L991.50,61.75 L994.75,62.00 L998.25,59.50 L1001.75,59.00 L1005.25,58.25" fill="none" stroke="#19c283" stroke-width="1.9" stroke-linejoin="round" stroke-linecap="round" clip-path="url(#above)"/>
<!-- start label halo -->
<rect x="10" y="90.5" width="48" height="20.5" rx="6" fill="#fff" filter="url(#blur)"/>
<rect x="11.5" y="91.5" width="45" height="18.5" rx="5" fill="#fff" fill-opacity="0.92"/>
<text x="13.4" y="104" style="font-family:'Liberation Sans',sans-serif;font-size:10.9px;fill:#6f7483">118.61K</text>
<!-- y labels -->
<text x="1012.5" y="113.10" class="ax">118.50K</text><text x="1012.5" y="162.10" class="ax">118.00K</text><text x="1012.5" y="211.10" class="ax">117.50K</text><text x="1012.5" y="261.10" class="ax">117.00K</text><text x="1012.5" y="310.10" class="ax">116.50K</text>
<!-- price badge -->
<rect x="1007.5" y="46.3" width="53.3" height="25.4" rx="3.5" fill="#16c784"/>
<text x="1013.5" y="63.2" style="font-family:'Liberation Sans',sans-serif;font-size:11px;fill:#fff">119.00K</text>
<text x="1019.5" y="358.6" style="font-family:'Liberation Sans',sans-serif;font-size:11.6px;font-weight:bold;fill:#6f7483">USD</text>
<!-- watermark -->
<g opacity="0.9">
<circle cx="863.8" cy="309.8" r="10.7" fill="none" stroke="#cfd6e4" stroke-width="1.9" stroke-dasharray="60.1 7.1" transform="rotate(50 863.8 309.8)"/>
<path d="M856.3,315.4 L861.7,305.6 Q862.6,304.2 863.3,305.8 L865.1,312.7 L868.1,305.9 Q869,304.6 869.7,306.2 L871.2,312 Q872.4,314.6 874.9,311.9" fill="none" stroke="#cfd6e4" stroke-width="2.2" stroke-linecap="round" stroke-linejoin="round"/>
<text x="884" y="316.1" textLength="108" lengthAdjust="spacingAndGlyphs" style="font-family:'Liberation Sans',sans-serif;font-size:15.2px;font-weight:bold;fill:#cfd6e4">CoinMarketCap</text>
</g>
<!-- x labels -->
<text x="49" y="378.2" class="ax" text-anchor="middle">12:00 PM</text><text x="131" y="378.2" class="ax" text-anchor="middle">2:00 PM</text><text x="213" y="378.2" class="ax" text-anchor="middle">4:00 PM</text><text x="295" y="378.2" class="ax" text-anchor="middle">6:00 PM</text><text x="377" y="378.2" class="ax" text-anchor="middle">8:00 PM</text><text x="459" y="378.2" class="ax" text-anchor="middle">10:00 PM</text><text x="541" y="378.2" class="ax" text-anchor="middle">22 Jul</text><text x="623" y="378.2" class="ax" text-anchor="middle">2:00 AM</text><text x="705" y="378.2" class="ax" text-anchor="middle">4:00 AM</text><text x="787" y="378.2" class="ax" text-anchor="middle">6:00 AM</text><text x="868.75" y="378.2" class="ax" text-anchor="middle">8:00 AM</text><text x="950.6" y="378.2" class="ax" text-anchor="middle">10:00 AM</text>
<!-- 121 badge -->
<path d="M8.3,396.4 L17.6,385.6 Q19,384 21.2,384 H44.8 A12.4,12.4 0 0 1 44.8,408.8 H21.2 Q19,408.8 17.6,407.2 Z" fill="#a6b0c3"/>
<g fill="none" stroke="#fff" stroke-width="1.35" stroke-linecap="round" stroke-linejoin="round">
<path d="M19.2,393.4 A5.1,5.1 0 1 1 19.0,397.6"/>
<path d="M18.3,391.0 V393.9 H21.2"/>
<path d="M23.9,392.6 V395.9 L26.2,397.5"/>
</g>
<text x="34.3" y="400.3" style="font-family:'Liberation Sans',sans-serif;font-size:11px;fill:#fff;stroke:#fff;stroke-width:0.25px">121</text>
<!-- purple pill -->
<path d="M930.2,384.3 L933,380.2 L935.8,384.3 Z" fill="#8640f0"/>
<rect x="861" y="384" width="144.2" height="24.6" rx="12.3" fill="#8640f0"/>
<path d="M874.3,389.7 L869.2,397.2 H873 L871.9,402.6 L877.2,394.9 H873.4 Z" fill="none" stroke="#fff" stroke-width="1.2" stroke-linejoin="round"/>
<text x="883.3" y="400.3" textLength="114" lengthAdjust="spacingAndGlyphs" style="font-family:'Liberation Sans',sans-serif;font-size:11px;font-weight:normal;fill:#fff;stroke:#fff;stroke-width:0.3px">BlackRock's Bitcoin ...</text>
<!-- navigator -->
<line x1="8" x2="1007" y1="413.5" y2="413.5" stroke="#f4f5f8"/>
<line x1="8" x2="1007" y1="453.5" y2="453.5" stroke="#eff2f5"/>
<line x1="105.7" x2="105.7" y1="413.5" y2="453.5" stroke="#eff2f5"/><text x="105.7" y="470" class="ax" text-anchor="middle">2012</text><line x1="238.7" x2="238.7" y1="413.5" y2="453.5" stroke="#eff2f5"/><text x="238.7" y="470" class="ax" text-anchor="middle">2014</text><line x1="371.6" x2="371.6" y1="413.5" y2="453.5" stroke="#eff2f5"/><text x="371.6" y="470" class="ax" text-anchor="middle">2016</text><line x1="504.6" x2="504.6" y1="413.5" y2="453.5" stroke="#eff2f5"/><text x="504.6" y="470" class="ax" text-anchor="middle">2018</text><line x1="637.6" x2="637.6" y1="413.5" y2="453.5" stroke="#eff2f5"/><text x="637.6" y="470" class="ax" text-anchor="middle">2020</text><line x1="770.5" x2="770.5" y1="413.5" y2="453.5" stroke="#eff2f5"/><text x="770.5" y="470" class="ax" text-anchor="middle">2022</text><line x1="903.5" x2="903.5" y1="413.5" y2="453.5" stroke="#eff2f5"/><text x="903.5" y="470" class="ax" text-anchor="middle">2024</text>
<path d="M8,453.3 L480.0,453.1 L481.4,453.06 L482.8,453.03 L484.2,452.96 L485.6,452.91 L487.0,452.87 L488.4,452.79 L489.8,452.77 L491.2,452.74 L492.6,452.71 L494.0,452.58 L495.4,452.44 L496.8,451.93 L498.2,451.67 L499.6,451.2 L501.0,450.2 L502.4,449.96 L503.8,449.93 L505.2,450.27 L506.6,450.67 L508.0,450.72 L509.4,450.93 L510.8,451.39 L512.2,451.47 L513.6,451.57 L515.0,451.64 L516.4,451.64 L517.8,451.82 L519.2,451.86 L520.6,452.02 L522.0,451.99 L523.4,452.08 L524.8,452.1 L526.2,452.19 L527.6,452.2 L529.0,452.22 L530.4,452.39 L531.8,452.41 L533.2,452.39 L534.6,452.38 L536.0,452.33 L537.4,452.33 L538.8,452.35 L540.2,452.33 L541.6,452.46 L543.0,452.41 L544.4,452.5 L545.8,452.44 L547.2,452.54 L548.6,452.54 L550.0,452.43 L551.4,452.47 L552.8,452.59 L554.2,452.54 L555.6,452.62 L557.0,452.56 L558.4,452.53 L559.8,452.61 L561.2,452.63 L562.6,452.55 L564.0,452.52 L565.4,452.54 L566.8,452.62 L568.2,452.58 L569.6,452.48 L571.0,452.49 L572.4,452.46 L573.8,452.45 L575.2,452.54 L576.6,452.44 L578.0,452.49 L579.4,452.46 L580.8,452.41 L582.2,452.49 L583.6,452.39 L585.0,452.46 L586.4,452.36 L587.8,452.4 L589.2,452.36 L590.6,452.31 L592.0,452.33 L593.4,452.19 L594.8,451.97 L596.2,452.0 L597.6,451.71 L599.0,451.65 L600.4,451.7 L601.8,451.58 L603.2,451.36 L604.6,451.61 L606.0,451.3 L607.4,451.27 L608.8,451.4 L610.2,451.2 L611.6,451.14 L613.0,451.06 L614.4,451.1 L615.8,451.31 L617.2,451.22 L618.6,451.38 L620.0,451.33 L621.4,451.39 L622.8,451.59 L624.2,451.47 L625.6,451.53 L627.0,451.65 L628.4,451.47 L629.8,451.49 L631.2,451.73 L632.6,451.71 L634.0,451.54 L635.4,451.53 L636.8,451.71 L638.2,451.77 L639.6,451.56 L641.0,451.79 L642.4,451.77 L643.8,451.7 L645.2,451.65 L646.6,451.57 L648.0,451.56 L649.4,451.83 L650.8,451.61 L652.2,451.72 L653.6,451.55 L655.0,451.7 L656.4,451.6 L657.8,451.48 L659.2,451.41 L660.6,451.56 L662.0,451.32 L663.4,451.34 L664.8,451.42 L666.2,451.5 L667.6,451.39 L669.0,451.24 L670.4,451.44 L671.8,451.14 L673.2,451.03 L674.6,451.09 L676.0,451.12 L677.4,450.93 L678.8,450.94 L680.2,450.97 L681.6,451.02 L683.0,450.8 L684.4,450.86 L685.8,451.04 L687.2,451.03 L688.6,450.83 L690.0,450.79 L691.4,450.22 L692.8,449.4 L694.2,448.75 L695.6,448.14 L697.0,448.35 L698.4,447.59 L699.8,447.33 L701.2,445.17 L702.6,444.98 L704.0,443.71 L705.4,443.14 L706.8,441.29 L708.2,441.77 L709.6,438.55 L711.0,439.07 L712.4,439.08 L713.8,439.01 L715.2,438.1 L716.6,437.57 L718.0,437.44 L719.4,437.38 L720.8,435.55 L722.2,436.51 L723.6,437.98 L725.0,438.81 L726.4,438.6 L727.8,440.64 L729.2,441.86 L730.6,441.94 L732.0,442.25 L733.4,441.98 L734.8,442.58 L736.2,442.84 L737.6,442.09 L739.0,443.38 L740.4,443.98 L741.8,443.02 L743.2,441.95 L744.6,440.51 L746.0,440.76 L747.4,439.85 L748.8,439.07 L750.2,439.89 L751.6,437.73 L753.0,439.25 L754.4,436.24 L755.8,436.59 L757.2,435.14 L758.6,433.78 L760.0,435.83 L761.4,436.14 L762.8,437.27 L764.2,438.9 L765.6,438.01 L767.0,438.19 L768.4,439.46 L769.8,440.88 L771.2,440.34 L772.6,440.64 L774.0,442.33 L775.4,441.93 L776.8,441.55 L778.2,442.12 L779.6,440.49 L781.0,440.87 L782.4,439.53 L783.8,440.23 L785.2,441.24 L786.6,441.63 L788.0,442.09 L789.4,441.63 L790.8,442.64 L792.2,442.75 L793.6,443.05 L795.0,444.27 L796.4,445.38 L797.8,445.77 L799.2,445.89 L800.6,446.53 L802.0,445.98 L803.4,446.17 L804.8,446.75 L806.2,446.8 L807.6,446.98 L809.0,447.44 L810.4,447.86 L811.8,447.86 L813.2,447.81 L814.6,448.43 L816.0,448.68 L817.4,448.32 L818.8,448.12 L820.2,448.22 L821.6,449.02 L823.0,448.44 L824.4,449.07 L825.8,449.06 L827.2,448.96 L828.6,449.42 L830.0,448.95 L831.4,448.76 L832.8,448.74 L834.2,448.11 L835.6,448.56 L837.0,447.75 L838.4,447.35 L839.8,446.94 L841.2,447.28 L842.6,446.78 L844.0,446.74 L845.4,446.55 L846.8,446.52 L848.2,446.51 L849.6,445.92 L851.0,445.09 L852.4,445.35 L853.8,444.79 L855.2,444.42 L856.6,444.97 L858.0,445.4 L859.4,444.7 L860.8,444.94 L862.2,445.13 L863.6,445.72 L865.0,445.56 L866.4,445.76 L867.8,445.97 L869.2,445.48 L870.6,446.05 L872.0,446.22 L873.4,445.1 L874.8,446.28 L876.2,446.0 L877.6,445.02 L879.0,445.22 L880.4,445.23 L881.8,445.42 L883.2,444.35 L884.6,444.4 L886.0,444.67 L887.4,444.29 L888.8,444.3 L890.2,443.18 L891.6,443.17 L893.0,441.96 L894.4,442.61 L895.8,442.47 L897.2,441.75 L898.6,441.6 L900.0,440.14 L901.4,441.38 L902.8,441.26 L904.2,441.06 L905.6,439.85 L907.0,440.33 L908.4,439.02 L909.8,440.35 L911.2,438.91 L912.6,436.05 L914.0,434.19 L915.4,434.09 L916.8,433.44 L918.2,434.07 L919.6,433.41 L921.0,432.28 L922.4,434.38 L923.8,432.43 L925.2,434.29 L926.6,432.6 L928.0,432.96 L929.4,434.07 L930.8,432.47 L932.2,432.67 L933.6,433.81 L935.0,434.52 L936.4,435.01 L937.8,434.71 L939.2,435.39 L940.6,434.24 L942.0,435.45 L943.4,433.21 L944.8,433.37 L946.2,433.98 L947.6,433.18 L949.0,434.13 L950.4,433.73 L951.8,433.32 L953.2,434.05 L954.6,433.21 L956.0,432.46 L957.4,432.54 L958.8,432.16 L960.2,429.62 L961.6,424.75 L963.0,424.99 L964.4,424.57 L965.8,422.69 L967.2,422.09 L968.6,421.62 L970.0,423.19 L971.4,423.36 L972.8,422.75 L974.2,420.37 L975.6,423.67 L977.0,423.33 L978.4,423.88 L979.8,425.71 L981.2,425.85 L982.6,426.42 L984.0,427.69 L985.4,426.82 L986.8,427.54 L988.2,426.62 L989.6,426.87 L991.0,424.87 L992.4,421.72 L993.8,421.97 L995.2,420.79 L996.6,421.28 L998.0,421.94 L999.4,421.83 L1000.8,420.39 L1002.2,419.63 L1003.6,418.96 L1005.0,419.72 L1006.4,420.18 L1006.7,419.2 L1006.7,453.5 L8,453.5 Z" fill="#eef1f4"/>
<g filter="url(#sh)"><rect x="998.8" y="423" width="14.2" height="19.5" rx="6.9" fill="#fff"/></g>
<line x1="1004.8" x2="1004.8" y1="429.4" y2="436.2" stroke="#8a8f99" stroke-width="0.9"/>
<line x1="1007.4" x2="1007.4" y1="429.4" y2="436.2" stroke="#8a8f99" stroke-width="0.9"/>
</svg>
</body></html>
